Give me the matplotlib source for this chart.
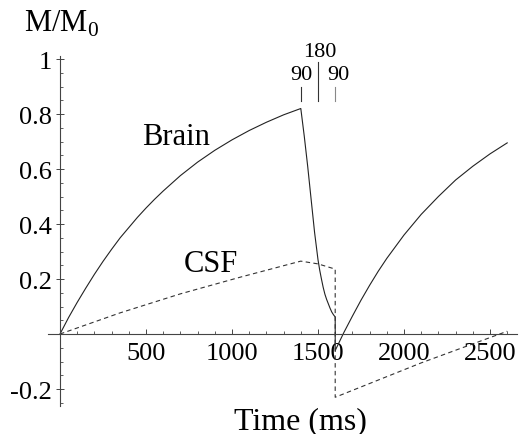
import matplotlib
matplotlib.use("Agg")
import matplotlib.pyplot as plt
from matplotlib.ticker import FixedLocator

plt.rcParams["font.family"] = ["Liberation Serif", "DejaVu Serif"]
plt.rcParams["mathtext.fontset"] = "custom"
plt.rcParams["mathtext.rm"] = "Liberation Serif"

# ===== data =====
# brain: saturation recovery, 90-180-90 pulses, then recovery again
brain_t = [0, 50, 100, 150, 200, 250, 300, 350, 400, 450, 500, 550, 600,
           700, 800, 900, 1000, 1100, 1200, 1300, 1400,
           1410, 1420, 1430, 1440, 1450, 1460, 1470, 1480, 1490, 1500,
           1510, 1520, 1530, 1540, 1550, 1560, 1570, 1580, 1590, 1600,
           1600, 1650, 1700, 1750, 1800, 1850, 1900, 2000, 2100, 2200, 2300, 2400, 2500, 2600]
brain_m = [0.0, 0.06, 0.115, 0.167, 0.217, 0.264, 0.308, 0.35, 0.387, 0.424, 0.458, 0.49, 0.52,
           0.576, 0.625, 0.668, 0.706, 0.74, 0.77, 0.797, 0.82,
           0.77, 0.72, 0.665, 0.61, 0.55, 0.49, 0.43, 0.37, 0.32, 0.27,
           0.232, 0.20, 0.17, 0.145, 0.126, 0.11, 0.094, 0.08, 0.07, 0.062,
           -0.06, 0.005, 0.065, 0.123, 0.177, 0.228, 0.275, 0.36, 0.435, 0.50, 0.56, 0.61, 0.655, 0.695]

csf_t = [0, 350, 700, 1050, 1400, 1500, 1600, 1600, 2100, 2600]
csf_m = [0.0, 0.077, 0.146, 0.207, 0.265, 0.255, 0.236, -0.23, -0.105, 0.01]

pulse_t = [1400, 1500, 1600]
pulse_lbl = ["90", "180", "90"]

xticks = [500, 1000, 1500, 2000, 2500]
yticks = [-0.2, 0.2, 0.4, 0.6, 0.8, 1.0]
ytick_lbl = ["-0.2", "0.2", "0.4", "0.6", "0.8", "1"]

# ===== figure =====
fig = plt.figure(figsize=(5.21, 4.35), dpi=100)
ax = fig.add_axes([0, 0, 1, 1])
ax.patch.set_alpha(0)
ax.set_xlim(-348.8, 2680.2)
ax.set_ylim(-0.3636, 1.2182)

ax.plot(brain_t, brain_m, color="#222222", lw=0.8)
ax.plot(csf_t, csf_m, color="#333333", lw=0.8, dashes=(4, 3))

# pulse markers
for t, lbl in zip(pulse_t, pulse_lbl):
    if lbl == "180":
        ax.plot([t, t], [0.847, 0.99], color="#333333", lw=0.8)
        ax.text(t + 10, 1.011, lbl, ha="center", va="baseline", fontsize=16)
    else:
        ax.plot([t, t], [0.847, 0.898], color="#333333" if t < 1500 else "#888888", lw=0.8)
        ax.text(t + (5 if t < 1500 else 16), 0.927, lbl, ha="center", va="baseline", fontsize=16)

ax.text(674, 0.69, "Brain", ha="center", va="baseline", fontsize=22)
ax.text(878, 0.229, "CSF", ha="center", va="baseline", fontsize=22)
ax.text(1395, -0.343, "Time (ms)", ha="center", va="baseline", fontsize=23)
ax.text(6, 1.102, r"M/M$_0$", ha="center", va="baseline", fontsize=22)

# axes through the origin (Mathematica look)
for s in ["top", "right"]:
    ax.spines[s].set_visible(False)
ax.spines["left"].set_position(("data", 0))
ax.spines["bottom"].set_position(("data", 0))
ax.spines["left"].set_bounds(-0.262, 1.01)
ax.spines["bottom"].set_bounds(-70, 2657)
for s in ["left", "bottom"]:
    ax.spines[s].set_color("#444444")
    ax.spines[s].set_linewidth(0.8)

ax.set_xticks(xticks)
ax.set_xticklabels([str(v) for v in xticks])
ax.set_yticks(yticks)
ax.set_yticklabels(ytick_lbl)
ax.xaxis.set_minor_locator(FixedLocator([k * 100 for k in range(1, 27) if k % 5]))
ax.yaxis.set_minor_locator(FixedLocator([k * 0.05 for k in range(-5, 21) if k % 4 and k]))
ax.tick_params(axis="x", which="major", direction="in", length=3.5, width=0.7,
               color="#444444", labelsize=19, pad=6)
ax.tick_params(axis="x", which="minor", direction="in", length=2.2, width=0.6, color="#444444")
ax.tick_params(axis="y", which="major", direction="inout", length=6, width=0.7,
               color="#444444", labelsize=19, pad=3)
ax.tick_params(axis="y", which="minor", direction="in", length=2.2, width=0.6, color="#444444")

fig.savefig("out.png", dpi=100)
